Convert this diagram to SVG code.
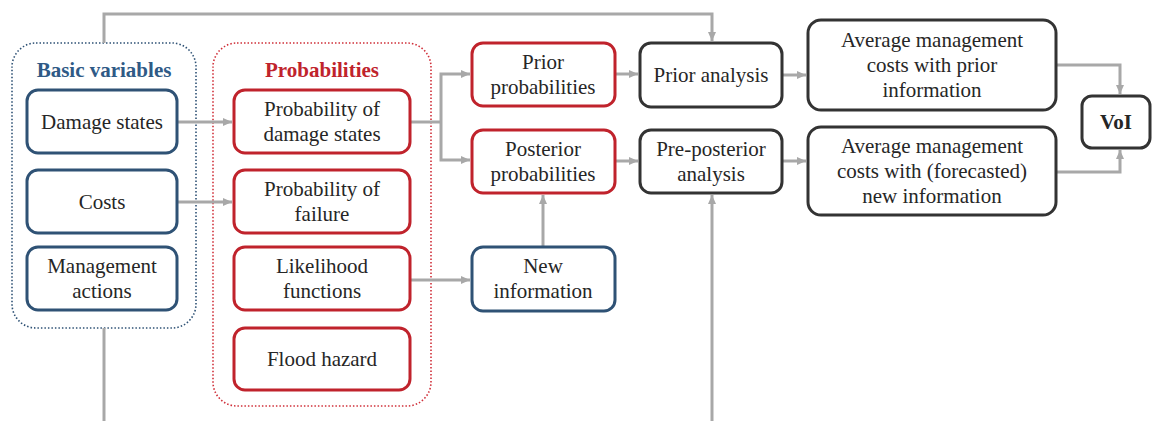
<svg xmlns="http://www.w3.org/2000/svg" width="1153" height="421" viewBox="0 0 1153 421">
<style>
  .t { font-size: 21px; fill: #262626; text-anchor: middle; }
  .title { font-weight: bold; }
  .blue { fill: #fff; stroke: #2f5275; stroke-width: 3; }
  .red { fill: #fff; stroke: #c0232c; stroke-width: 3; }
  .black { fill: #fff; stroke: #333; stroke-width: 3; }
  .cont-blue { fill: none; stroke: #2f5275; stroke-width: 1.6; stroke-dasharray: 1.5 2; }
  .cont-red { fill: none; stroke: #d0303a; stroke-width: 1.6; stroke-dasharray: 1.5 2; }
  .c { fill: none; stroke: #a8a8a8; stroke-width: 3; }
</style>
<defs>
  <marker id="ah" markerUnits="userSpaceOnUse" markerWidth="10" markerHeight="10" refX="9" refY="5" orient="auto">
    <path d="M0,1 L9,5 L0,9 z" fill="#a8a8a8"/>
  </marker>
</defs>
<rect width="1153" height="421" fill="#fff"/>

<g font-family="Liberation Serif, Times New Roman, Tinos, DejaVu Serif, serif">
<g id="group-basic">
  <rect class="cont-blue" x="12" y="43" width="184" height="285" rx="24"/>
  <text class="t title" x="104" y="77" style="fill:#2f5a86">Basic variables</text>
</g>
<g id="group-probabilities">
  <rect class="cont-red" x="213" y="43" width="218" height="363" rx="24"/>
  <text class="t title" x="322" y="77" style="fill:#c0232c">Probabilities</text>
</g>

<g id="connectors">
  <path class="c" d="M104,43 V14 H712 V41" marker-end="url(#ah)"/>
  <path class="c" d="M104,328 V421"/>
  <path class="c" d="M712,421 V195" marker-end="url(#ah)"/>
  <path class="c" d="M177,122 H232" marker-end="url(#ah)"/>
  <path class="c" d="M177,202 H232" marker-end="url(#ah)"/>
  <path class="c" d="M410,122 H441"/>
  <path class="c" d="M441,122 V74 H470" marker-end="url(#ah)"/>
  <path class="c" d="M441,122 V160 H470" marker-end="url(#ah)"/>
  <path class="c" d="M410,280 H470" marker-end="url(#ah)"/>
  <path class="c" d="M543,247 V195" marker-end="url(#ah)"/>
  <path class="c" d="M615,74 H638" marker-end="url(#ah)"/>
  <path class="c" d="M615,161 H638" marker-end="url(#ah)"/>
  <path class="c" d="M782,75 H806" marker-end="url(#ah)"/>
  <path class="c" d="M782,161 H806" marker-end="url(#ah)"/>
  <path class="c" d="M1056,65 H1120 V94" marker-end="url(#ah)"/>
  <path class="c" d="M1056,172 H1120 V150" marker-end="url(#ah)"/>
</g>

<g id="damage-states">
  <rect class="blue" x="27" y="90" width="150" height="63" rx="11"/>
  <text class="t" x="102" y="129">Damage states</text>
</g>
<g id="costs">
  <rect class="blue" x="27" y="170" width="150" height="63" rx="11"/>
  <text class="t" x="102" y="209">Costs</text>
</g>
<g id="management-actions">
  <rect class="blue" x="27" y="247" width="150" height="63" rx="11"/>
  <text class="t" x="102" y="273">Management</text>
  <text class="t" x="102" y="298">actions</text>
</g>

<g id="prob-damage-states">
  <rect class="red" x="234" y="90" width="176" height="63" rx="11"/>
  <text class="t" x="322" y="116">Probability of</text>
  <text class="t" x="322" y="141">damage states</text>
</g>
<g id="prob-failure">
  <rect class="red" x="234" y="170" width="176" height="63" rx="11"/>
  <text class="t" x="322" y="196">Probability of</text>
  <text class="t" x="322" y="221">failure</text>
</g>
<g id="likelihood-functions">
  <rect class="red" x="234" y="247" width="176" height="63" rx="11"/>
  <text class="t" x="322" y="273">Likelihood</text>
  <text class="t" x="322" y="298">functions</text>
</g>
<g id="flood-hazard">
  <rect class="red" x="234" y="328" width="176" height="62" rx="11"/>
  <text class="t" x="322" y="366">Flood hazard</text>
</g>

<g id="prior-probabilities">
  <rect class="red" x="472" y="43" width="143" height="63" rx="11"/>
  <text class="t" x="543" y="69">Prior</text>
  <text class="t" x="543" y="94">probabilities</text>
</g>
<g id="posterior-probabilities">
  <rect class="red" x="472" y="130" width="143" height="63" rx="11"/>
  <text class="t" x="543" y="156">Posterior</text>
  <text class="t" x="543" y="181">probabilities</text>
</g>
<g id="new-information">
  <rect class="blue" x="472" y="247" width="143" height="64" rx="11"/>
  <text class="t" x="543" y="273">New</text>
  <text class="t" x="543" y="298">information</text>
</g>

<g id="prior-analysis">
  <rect class="black" x="640" y="43" width="142" height="64" rx="11"/>
  <text class="t" x="711" y="82">Prior analysis</text>
</g>
<g id="pre-posterior-analysis">
  <rect class="black" x="640" y="130" width="142" height="63" rx="11"/>
  <text class="t" x="711" y="156">Pre-posterior</text>
  <text class="t" x="711" y="181">analysis</text>
</g>

<g id="avg-prior">
  <rect class="black" x="808" y="20" width="248" height="90" rx="13"/>
  <text class="t" x="932" y="47">Average management</text>
  <text class="t" x="932" y="72">costs with prior</text>
  <text class="t" x="932" y="97">information</text>
</g>
<g id="avg-new">
  <rect class="black" x="808" y="127" width="248" height="88" rx="13"/>
  <text class="t" x="932" y="153">Average management</text>
  <text class="t" x="932" y="178">costs with (forecasted)</text>
  <text class="t" x="932" y="203">new information</text>
</g>

<g id="voi">
  <rect class="black" x="1082" y="96" width="68" height="52" rx="10"/>
  <text class="t title" x="1116" y="129">VoI</text>
</g>
</g>
</svg>
